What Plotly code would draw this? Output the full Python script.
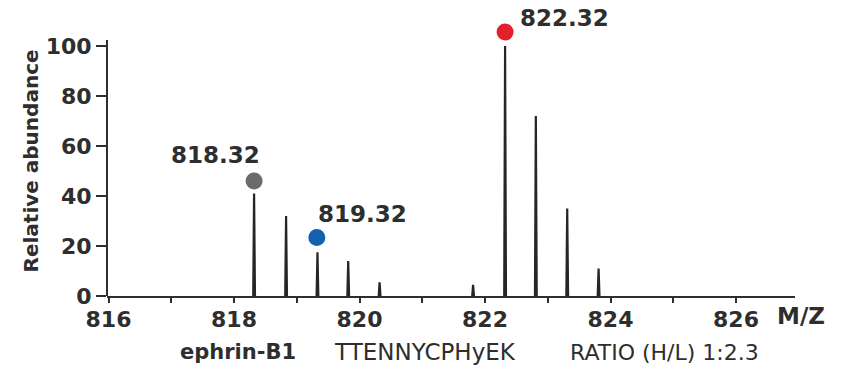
import plotly.graph_objects as go

# ---- data ----
peak_mz = [818.32, 818.83, 819.33, 819.82, 820.32, 821.81, 822.32, 822.81, 823.31, 823.81]
peak_int = [41, 32, 17.5, 14, 5.5, 4.5, 100, 72, 35, 11]

label_mz = [818.32, 819.32, 822.32]
label_text = ["818.32", "819.32", "822.32"]
dot_y = [46, 23.4, 105.6]
dot_colors = ["#6b6b6b", "#1460b0", "#e3202b"]
label_shift = [(-39, 26), (46, 24), (59, 14)]

x_ticks = [816, 818, 820, 822, 824, 826]
y_ticks = [0, 20, 40, 60, 80, 100]
y_axis_top = 102.4

BOLD = "DejaVu Sans, Verdana, sans-serif"
INK = "#2e2e2e"

W, H = 845, 366
L, R, T, B = 107, 50, 11, 70
pw, ph = W - L - R, H - T - B


def px(xp):
    return (xp - L) / pw


def py(yp):
    return (H - B - yp) / ph


# stick spectrum drawn as thin triangles
xs, ys = [], []
half = 0.014
for m, h in zip(peak_mz, peak_int):
    xs += [m - half, m, m + half, None]
    ys += [0, h, 0, None]

fig = go.Figure()
fig.add_trace(go.Scatter(x=xs, y=ys, mode="lines",
                         line=dict(color="#262626", width=2.2),
                         hoverinfo="skip", showlegend=False))
fig.add_trace(go.Scatter(x=label_mz, y=dot_y, mode="markers",
                         marker=dict(size=17, color=dot_colors, line=dict(width=0)),
                         cliponaxis=False, showlegend=False))

anns = []
for m, t, yv, (dx, dy) in zip(label_mz, label_text, dot_y, label_shift):
    anns.append(dict(x=m, y=yv, xref="x", yref="y", text="<b>%s</b>" % t,
                     showarrow=False, xshift=dx, yshift=dy, xanchor="center", yanchor="middle",
                     font=dict(family=BOLD, size=23, color=INK)))


def paper_text(xp, yp, text, size, angle=0):
    return dict(x=px(xp), y=py(yp), xref="paper", yref="paper", text=text,
                showarrow=False, xanchor="center", yanchor="middle", textangle=angle,
                font=dict(family=BOLD, size=size, color=INK))


anns.append(paper_text(30.5, 161, "<b>Relative abundance</b>", 20, -90))
anns.append(paper_text(801, 316, "<b>M/Z</b>", 23))
anns.append(paper_text(238, 352, "<b>ephrin-B1</b>", 21))
anns.append(paper_text(425, 352, "TTENNYCPHyEK", 23))
anns.append(paper_text(664, 352, "RATIO (H/L) 1:2.3", 22))

fig.update_layout(
    width=W, height=H,
    margin=dict(l=L, r=R, t=T, b=B),
    paper_bgcolor="white", plot_bgcolor="white",
    annotations=anns,
    shapes=[dict(type="line", xref="paper", yref="y", x0=0, x1=0, y0=0, y1=y_axis_top,
                 line=dict(color=INK, width=2))],
    xaxis=dict(range=[815.976, 826.94], tickvals=x_ticks,
               ticktext=["<b>%d</b>" % v for v in x_ticks],
               minor=dict(dtick=1, ticks="outside", ticklen=5, tickcolor=INK, tickwidth=1.5),
               ticks="outside", ticklen=5, tickwidth=1.5, tickcolor=INK,
               ticklabelstandoff=-2,
               showline=True, linecolor=INK, linewidth=2,
               showgrid=False, zeroline=False,
               tickfont=dict(family=BOLD, size=22, color=INK)),
    yaxis=dict(range=[0, 114], tickvals=y_ticks,
               ticktext=["<b>%d</b>" % v for v in y_ticks],
               ticks="outside", ticklen=10, tickwidth=2, tickcolor=INK,
               showline=False,
               showgrid=False, zeroline=False,
               tickfont=dict(family=BOLD, size=22, color=INK)),
)

fig.write_html("out.html", config={"displayModeBar": False},
               post_script="document.body.style.margin='0';")
